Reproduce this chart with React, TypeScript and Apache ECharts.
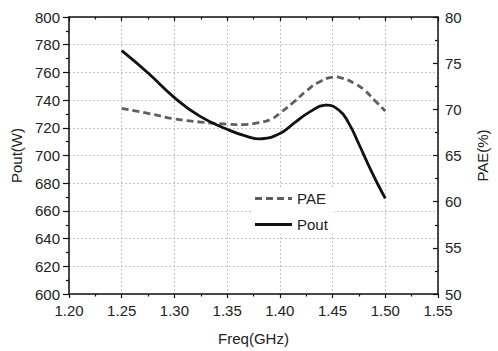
import React, { useEffect, useRef } from "react";
import * as echarts from "echarts";

const poutFreq = [
  1.25, 1.275, 1.3, 1.324, 1.35, 1.368, 1.383, 1.401, 1.4135, 1.4288, 1.443, 1.456,
  1.4653, 1.4744, 1.4836, 1.4927, 1.5,
];
const pout = [
  775.7, 759.6, 741.8, 728.4, 718.9, 714, 712.1, 716.3, 723.4, 731.7, 736.3, 732.8,
  723.4, 709.2, 693.8, 679.6, 669,
];
const paeFreq = [
  1.25, 1.275, 1.3, 1.325, 1.35, 1.365, 1.38, 1.392, 1.4013, 1.4135, 1.4257, 1.4379,
  1.45, 1.4592, 1.4714, 1.4805, 1.4897, 1.5,
];
const pae = [
  70.1, 69.57, 68.97, 68.62, 68.4, 68.35, 68.55, 68.95, 69.7, 70.82, 72.05, 73.0,
  73.48, 73.37, 72.77, 72.05, 70.99, 69.82,
];

const FONT = "'Liberation Sans', Arial, sans-serif";
const TXT = "#222";
const PAE_COLOR = "#5f5f5f";
const POUT_COLOR = "#111";

function curveSeries(
  name: string,
  xs: number[],
  ys: number[],
  yAxisIndex: number,
  color: string,
  dash: number[] | null,
  z: number
) {
  return {
    name,
    type: "custom",
    coordinateSystem: "cartesian2d",
    xAxisIndex: 0,
    yAxisIndex,
    encode: { x: 0, y: 1 },
    data: xs.map((x, i) => [x, ys[i]]),
    itemStyle: { color },
    z,
    renderItem: (params: any, api: any) => {
      if (params.dataIndex !== 0) return null;
      const pts = xs.map((x, i) => api.coord([x, ys[i]]));
      return {
        type: "polyline",
        shape: { points: pts, smooth: 0.5 },
        style: {
          stroke: color,
          lineWidth: 2.8,
          fill: null,
          lineDash: dash || undefined,
          lineCap: "butt",
          lineJoin: "round",
        },
      };
    },
  };
}

export default function App() {
  const ref = useRef<HTMLDivElement>(null);
  useEffect(() => {
    if (!ref.current) return;
    const chart = echarts.init(ref.current, undefined, { renderer: "svg" });
    const axisLine = { show: true, lineStyle: { color: "#111", width: 1.5 } };
    const label = { color: TXT, fontSize: 15, fontFamily: FONT };
    const tickStyle = { color: "#111", width: 1.2 };
    chart.setOption({
      animation: false,
      backgroundColor: "#fff",
      grid: { left: 69, right: 46, top: 17, bottom: 52 },
      legend: {
        data: [
          { name: "PAE", icon: "path://M0,0h7v3h-7z M11,0h7v3h-7z M22,0h7v3h-7z M33,0h4v3h-4z" },
          { name: "Pout", icon: "path://M0,0h37v3h-37z" },
        ],
        orient: "vertical",
        left: 251,
        top: 189,
        itemWidth: 37,
        itemHeight: 14,
        itemGap: 11,
        padding: [2, 6, 2, 4],
        backgroundColor: "#fff",
        textStyle: { color: TXT, fontSize: 15, fontFamily: FONT },
      },
      xAxis: [
        {
          type: "value",
          min: 1.2,
          max: 1.55,
          interval: 0.05,
          position: "bottom",
          name: "Freq(GHz)",
          nameLocation: "middle",
          nameGap: 37,
          nameTextStyle: { color: TXT, fontSize: 15, fontFamily: FONT },
          axisLine,
          axisTick: { show: true, inside: false, length: 4, lineStyle: tickStyle },
          minorTick: { show: true, splitNumber: 2, length: 2.5, lineStyle: tickStyle },
          axisLabel: { ...label, margin: 9, formatter: (v: number) => v.toFixed(2) },
          splitLine: { show: true, lineStyle: { color: "#c4c4c4", type: [2, 2], width: 1 } },
        },
        {
          type: "value",
          min: 1.2,
          max: 1.55,
          interval: 0.05,
          position: "top",
          axisLine,
          axisTick: { show: true, inside: true, length: 4, lineStyle: tickStyle },
          minorTick: { show: true, splitNumber: 2, length: 2.5, lineStyle: tickStyle },
          axisLabel: { show: false },
          splitLine: { show: false },
        },
      ],
      yAxis: [
        {
          type: "value",
          min: 600,
          max: 800,
          interval: 20,
          position: "left",
          name: "Pout(W)",
          nameLocation: "middle",
          nameGap: 39,
          nameTextStyle: { color: TXT, fontSize: 15, fontFamily: FONT },
          axisLine,
          axisTick: { show: true, inside: false, length: 6, lineStyle: tickStyle },
          minorTick: { show: true, splitNumber: 2, length: 3, lineStyle: tickStyle },
          axisLabel: { ...label, margin: 9 },
          splitLine: { show: true, lineStyle: { color: "#c4c4c4", type: [2, 2], width: 1 } },
        },
        {
          type: "value",
          min: 50,
          max: 80,
          interval: 5,
          position: "right",
          name: "PAE(%)",
          nameLocation: "middle",
          nameGap: 37,
          nameTextStyle: { color: TXT, fontSize: 15, fontFamily: FONT },
          axisLine,
          axisTick: { show: true, inside: true, length: 5, lineStyle: tickStyle },
          minorTick: { show: true, splitNumber: 2, length: 3, lineStyle: tickStyle },
          axisLabel: { ...label, margin: 7 },
          splitLine: { show: false },
        },
      ],
      series: [
        curveSeries("PAE", paeFreq, pae, 1, PAE_COLOR, [7, 4], 3),
        curveSeries("Pout", poutFreq, pout, 0, POUT_COLOR, null, 4),
      ],
    });
    return () => chart.dispose();
  }, []);
  return <div ref={ref} style={{ width: 498, height: 351, position: "absolute", left: 0, top: 0 }} />;
}
